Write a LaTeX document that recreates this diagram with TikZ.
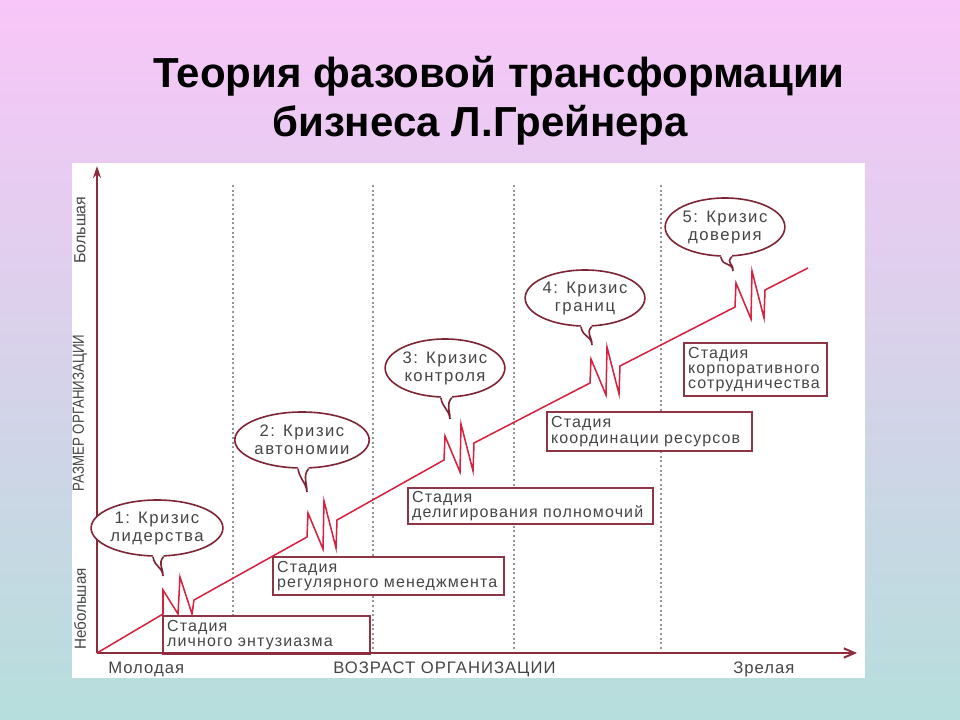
\documentclass[tikz,border=0pt]{standalone}
\usepackage{fontspec}
\setmainfont{Liberation Sans}
\newfontfamily\bubfont[LetterSpace=9]{Liberation Sans}
\newfontfamily\boxfnt[LetterSpace=7]{Liberation Sans}
\newfontfamily\axfont[LetterSpace=6]{Liberation Sans}
\usetikzlibrary{shapes.geometric,arrows.meta,calc}
\definecolor{bgtop}{HTML}{F8C6F8}
\definecolor{bgmid}{HTML}{D6D0F0}
\definecolor{bgbot}{HTML}{B6DEDC}
\definecolor{axiscol}{HTML}{8B2D3C}
\definecolor{redline}{HTML}{D6223F}
\definecolor{bubcol}{HTML}{7D2535}
\definecolor{boxcol}{HTML}{8E3545}
\definecolor{txtcol}{HTML}{454545}
\definecolor{dashcol}{HTML}{959595}
\newcommand{\bubtail}[2]{%
  \fill[white] ($(#1.262)+(0,-2)$) -- (#1.262) .. controls +(2,11) and +(-1,-10) .. (#2)
     .. controls +(0,-9) and +(-6,7) .. (#1.283) -- ($(#1.283)+(0,-2)$) -- cycle;
  \draw[bubline] (#1.262) .. controls +(2,11) and +(-1,-10) .. (#2)
     .. controls +(0,-9) and +(-6,7) .. (#1.283);}
\begin{document}
\begin{tikzpicture}[x=0.75pt,y=-0.75pt,
  axisline/.style={draw=axiscol, line width=1.5pt},
  dashline/.style={draw=dashcol, line width=1.2pt, dash pattern=on 1.5pt off 2pt},
  trend/.style={draw=redline, line width=1.15pt, line join=miter},
  bubline/.style={draw=bubcol, line width=1.2pt},
  bubble/.style={ellipse, draw=bubcol, line width=1.2pt, fill=white, inner sep=0pt,
     minimum width=85.5pt, minimum height=42pt, align=center, text=txtcol,
     font=\bubfont\fontsize{12.5}{13.5}\selectfont},
  stagebox/.style={draw=boxcol, line width=1.7pt, fill=white, anchor=north west,
     inner xsep=3pt, inner ysep=0pt, align=left, text=txtcol,
     font=\boxfnt\fontsize{12}{11.4}\selectfont},
  axlabel/.style={text=txtcol, inner sep=0pt, font=\axfont\fontsize{12.5}{13}\selectfont},
  sidelabel/.style={text=txtcol, inner sep=0pt, rotate=90, font=\fontsize{12}{13}\selectfont},
  titletext/.style={anchor=base west, inner sep=0pt, text=black,
     font=\bfseries\fontsize{31.5}{32}\selectfont}]
\useasboundingbox (0,0) rectangle (960,720);
% background
\shade[top color=bgtop, middle color=bgmid, bottom color=bgbot] (0,0) rectangle (960,720);
\fill[white] (72,163) rectangle (865,678);
% title
\node[titletext] (title1) at (153,88) {Теория фазовой трансформации};
\node[titletext] (title2) at (272,137) {бизнеса Л.Грейнера};
% coordinates
\coordinate (o) at (97,653);
\coordinate (ytop) at (97,166);
\coordinate (xend) at (857,653);
% dashed separators
\foreach \xx [count=\i] in {233,373,514,661}{
  \coordinate (dtop\i) at (\xx,185);
  \coordinate (dbot\i) at (\xx,653);
  \draw[dashline] (dtop\i) -- (dbot\i);
}
% stage boxes
\node[stagebox, text width=149pt, minimum height=28.5pt] (s1) at (162,615) {Стадия\\личного энтузиазма};
\node[stagebox, text width=167.25pt, minimum height=28.5pt] (s2) at (272,556) {Стадия\\регулярного менеджмента};
\node[stagebox, text width=177.75pt, minimum height=27pt] (s3) at (407,487) {Стадия\\делигирования полномочий};
\node[stagebox, text width=147.75pt, minimum height=29.25pt] (s4) at (546,411) {Стадия\\координации ресурсов};
\node[stagebox, text width=101.25pt, minimum height=39.75pt] (s5) at (683,342) {Стадия\\корпоративного\\сотрудничества};
% axes
\draw[axisline, -{Stealth[length=9pt,width=6pt]}] (o) -- (ytop);
\draw[axisline, -{Straight Barb[length=8pt,width=7pt]}] (o) -- (xend);
% trend line with crisis zigzags
\coordinate (z1) at (163,614);
\coordinate (z2) at (307,537);
\coordinate (z3) at (444,460);
\coordinate (z4) at (590,383);
\coordinate (z5) at (735,307);
\coordinate (tend) at (808,268);
\draw[trend] (o) -- (z1) -- ++(0,-24) -- ++(15,24) -- ++(2,-37) -- ++(12,37) -- ++(2,-14)
  -- (z2) -- ++(1,-24) -- ++(15,36) -- ++(1,-48) -- ++(12,47) -- ++(1,-28)
  -- (z3) -- ++(1,-24) -- ++(15,36) -- ++(1,-48) -- ++(12,47) -- ++(1,-28)
  -- (z4) -- ++(1,-24) -- ++(15,36) -- ++(1,-48) -- ++(12,47) -- ++(1,-28)
  -- (z5) -- ++(1,-24) -- ++(15,36) -- ++(1,-48) -- ++(12,47) -- ++(1,-28)
  -- (tend);
% crisis bubbles
\node[bubble] (b1) at (157,528) {1: Кризис\\лидерства};
\node[bubble] (b2) at (302,440) {2: Кризис\\автономии};
\node[bubble, minimum width=87pt, minimum height=43.5pt] (b3) at (445,368) {3: Кризис\\контроля};
\node[bubble] (b4) at (585,298) {4: Кризис\\границ};
\node[bubble, minimum height=43.5pt] (b5) at (725,227) {5: Кризис\\доверия};
\coordinate (t1) at (163,576);
\coordinate (t2) at (307,492);
\coordinate (t3) at (450,419);
\coordinate (t4) at (592,345);
\coordinate (t5) at (733,271);
\bubtail{b1}{t1}
\bubtail{b2}{t2}
\bubtail{b3}{t3}
\bubtail{b4}{t4}
\bubtail{b5}{t5}
% axis labels
\node[axlabel, anchor=base west] (young) at (108,673) {Молодая};
\node[axlabel, anchor=base west] (age) at (333,673) {ВОЗРАСТ ОРГАНИЗАЦИИ};
\node[axlabel, anchor=base west] (mature) at (733,673) {Зрелая};
\node[sidelabel] (big) at (80,230) {\scalebox{1.0}[1]{Большая}};
\node[sidelabel] (size) at (80,413) {\scalebox{0.83}[1]{РАЗМЕР ОРГАНИЗАЦИИ}};
\node[sidelabel] (small) at (80,609) {\scalebox{0.95}[1]{Небольшая}};
\end{tikzpicture}
\end{document}
